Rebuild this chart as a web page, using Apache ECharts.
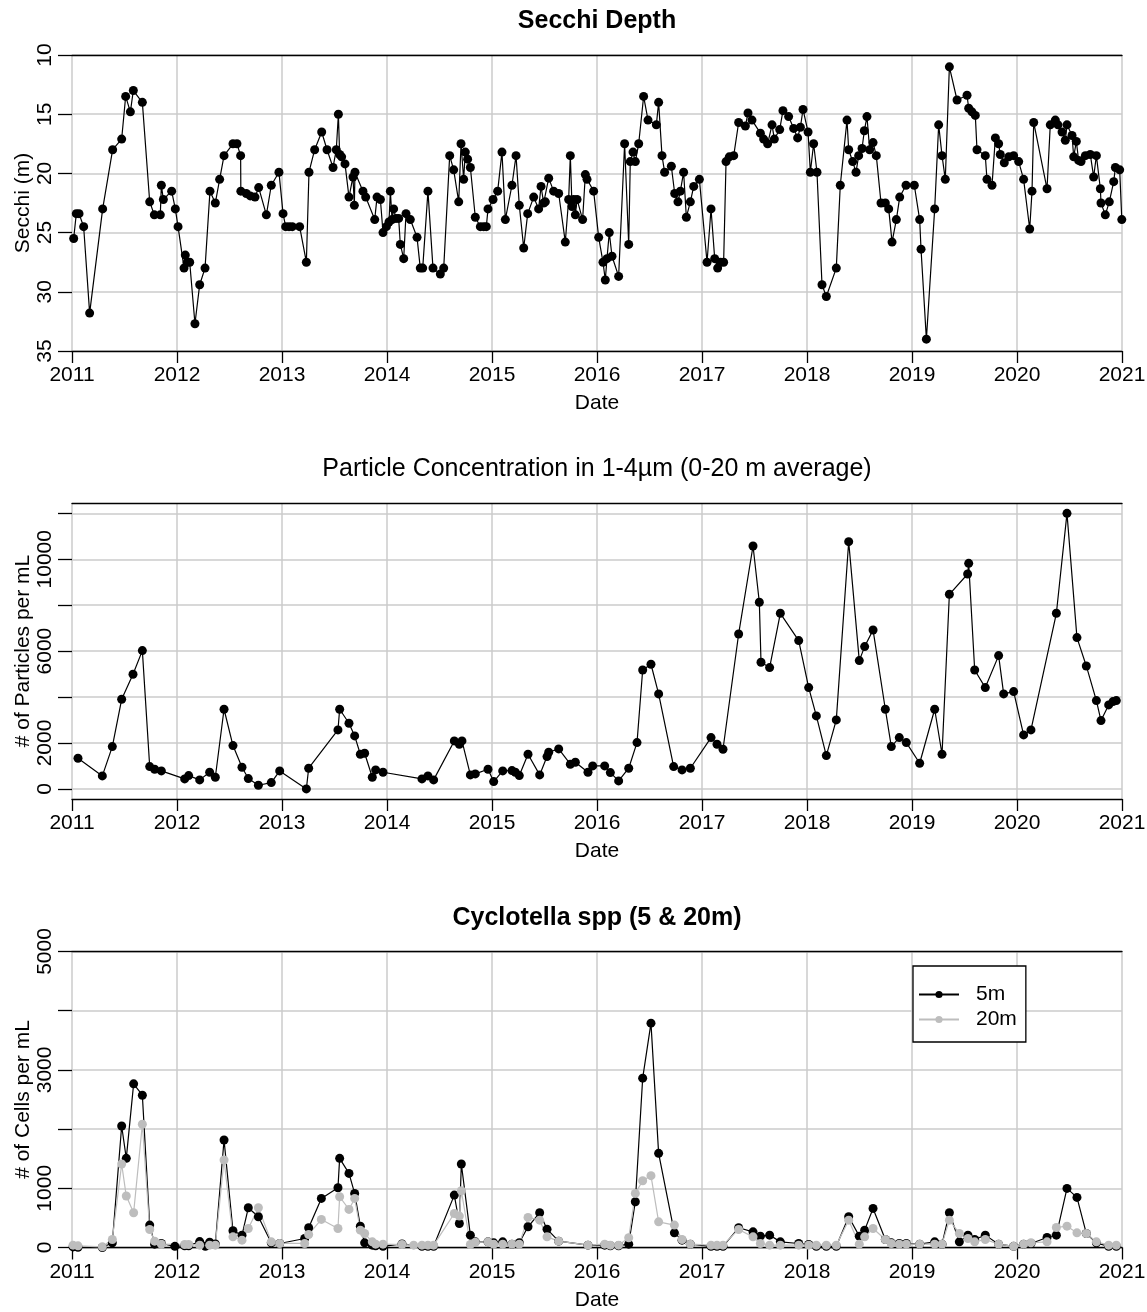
<!DOCTYPE html>
<html><head><meta charset="utf-8">
<script src="https://cdn.jsdelivr.net/npm/echarts@6/dist/echarts.min.js"></script>
<style>html,body{margin:0;padding:0;background:#fff}#c{width:1147px;height:1312px}</style>
</head><body><div id="c"></div>
<script>
// ---- DATA ----
const secchi = [
[2011.016,25.5],[2011.041,23.4],[2011.067,23.4],[2011.111,24.5],[2011.168,31.8],[2011.292,23.0],[2011.387,18.0],[2011.473,17.1],[2011.511,13.5],[2011.556,14.8],[2011.584,13.0],[2011.670,14.0],[2011.740,22.4],[2011.784,23.5],[2011.841,23.5],[2011.851,21.0],[2011.870,22.2],[2011.949,21.5],[2011.984,23.0],
[2012.010,24.5],[2012.067,28.0],[2012.079,26.9],[2012.098,27.5],[2012.121,27.5],[2012.171,32.7],[2012.216,29.4],[2012.267,28.0],[2012.314,21.5],[2012.365,22.5],[2012.406,20.5],[2012.448,18.5],[2012.533,17.5],[2012.571,17.5],[2012.606,18.5],[2012.608,21.5],[2012.660,21.7],[2012.698,21.9],[2012.743,22.0],[2012.778,21.2],[2012.851,23.5],[2012.898,21.0],[2012.971,19.9],
[2013.010,23.4],[2013.035,24.5],[2013.067,24.5],[2013.098,24.5],[2013.168,24.5],[2013.232,27.5],[2013.257,19.9],[2013.311,18.0],[2013.378,16.5],[2013.429,18.0],[2013.486,19.5],[2013.517,18.0],[2013.537,15.0],[2013.549,18.4],[2013.568,18.6],[2013.600,19.2],[2013.638,22.0],[2013.676,20.3],[2013.689,22.7],[2013.695,19.9],[2013.771,21.5],[2013.797,22.0],[2013.883,23.9],[2013.905,22.0],[2013.937,22.2],[2013.962,25.0],[2013.994,24.5],
[2014.019,24.1],[2014.032,21.5],[2014.048,23.9],[2014.063,23.0],[2014.086,23.8],[2014.111,23.8],[2014.127,26.0],[2014.159,27.2],[2014.181,23.4],[2014.222,23.9],[2014.286,25.4],[2014.317,28.0],[2014.340,28.0],[2014.390,21.5],[2014.438,28.0],[2014.508,28.5],[2014.540,28.0],[2014.597,18.5],[2014.635,19.7],[2014.683,22.4],[2014.705,17.5],[2014.730,20.5],[2014.746,18.2],[2014.768,18.8],[2014.794,19.5],[2014.841,23.7],[2014.889,24.5],[2014.921,24.5],[2014.946,24.5],[2014.962,23.0],
[2015.010,22.2],[2015.054,21.5],[2015.095,18.2],[2015.127,23.9],[2015.190,21.0],[2015.229,18.5],[2015.260,22.7],[2015.302,26.3],[2015.340,23.4],[2015.397,22.0],[2015.444,23.0],[2015.467,21.1],[2015.492,22.5],[2015.508,22.4],[2015.540,20.4],[2015.587,21.5],[2015.635,21.7],[2015.698,25.8],[2015.730,22.2],[2015.746,18.5],[2015.762,22.8],[2015.778,22.2],[2015.794,23.5],[2015.810,22.2],[2015.863,23.9],[2015.889,20.1],[2015.905,20.5],[2015.968,21.5],
[2016.016,25.4],[2016.057,27.5],[2016.079,29.0],[2016.095,27.2],[2016.117,25.0],[2016.143,27.0],[2016.206,28.7],[2016.263,17.5],[2016.302,26.0],[2016.317,19.0],[2016.343,18.2],[2016.365,19.0],[2016.397,17.5],[2016.444,13.5],[2016.486,15.5],[2016.565,15.9],[2016.587,14.0],[2016.619,18.5],[2016.644,19.9],[2016.708,19.4],[2016.740,21.7],[2016.771,22.4],[2016.794,21.5],[2016.825,19.9],[2016.851,23.7],[2016.889,22.4],[2016.921,21.1],[2016.975,20.5],
[2017.048,27.5],[2017.086,23.0],[2017.121,27.2],[2017.149,28.0],[2017.175,27.5],[2017.206,27.5],[2017.229,19.0],[2017.260,18.6],[2017.302,18.5],[2017.349,15.7],[2017.413,16.0],[2017.438,14.9],[2017.476,15.5],[2017.556,16.6],[2017.587,17.1],[2017.625,17.5],[2017.667,15.9],[2017.689,17.1],[2017.740,16.3],[2017.771,14.7],[2017.825,15.2],[2017.873,16.2],[2017.911,17.0],[2017.937,16.1],[2017.962,14.6],
[2018.010,16.5],[2018.032,19.9],[2018.063,17.5],[2018.095,19.9],[2018.143,29.4],[2018.184,30.4],[2018.279,28.0],[2018.317,21.0],[2018.381,15.5],[2018.397,18.0],[2018.435,19.0],[2018.467,19.9],[2018.492,18.5],[2018.524,17.9],[2018.546,16.4],[2018.571,15.2],[2018.597,18.0],[2018.629,17.4],[2018.660,18.5],[2018.705,22.5],[2018.746,22.5],[2018.778,23.0],[2018.810,25.8],[2018.851,23.9],[2018.883,22.0],[2018.943,21.0],
[2019.022,21.0],[2019.073,23.9],[2019.086,26.4],[2019.137,34.0],[2019.216,23.0],[2019.254,15.9],[2019.286,18.5],[2019.317,20.5],[2019.356,11.0],[2019.429,13.8],[2019.524,13.4],[2019.540,14.5],[2019.571,14.8],[2019.603,15.1],[2019.619,18.0],[2019.698,18.5],[2019.714,20.5],[2019.762,21.0],[2019.794,17.0],[2019.825,17.5],[2019.841,18.4],[2019.879,19.1],[2019.921,18.6],[2019.968,18.5],
[2020.016,19.0],[2020.063,20.5],[2020.121,24.7],[2020.143,21.5],[2020.159,15.7],[2020.286,21.3],[2020.317,15.9],[2020.365,15.5],[2020.390,15.9],[2020.429,16.5],[2020.460,17.2],[2020.476,15.9],[2020.524,16.8],[2020.540,18.6],[2020.565,17.3],[2020.587,18.9],[2020.610,19.0],[2020.651,18.5],[2020.698,18.4],[2020.730,20.3],[2020.756,18.5],[2020.794,21.3],[2020.800,22.5],[2020.841,23.5],[2020.879,22.4],[2020.921,20.7],[2020.937,19.5],[2020.978,19.7],[2020.998,23.9]
];

const particles = [
[2011.057,1335],[2011.289,566],[2011.384,1843],[2011.473,3903],[2011.581,4991],[2011.670,6022],[2011.740,972],[2011.787,856],[2011.851,784],[2012.073,435],[2012.111,580],[2012.216,392],[2012.311,726],[2012.365,508],[2012.448,3468],[2012.533,1886],[2012.619,943],[2012.679,450],[2012.775,160],[2012.898,276],[2012.978,784],[2013.232,0],[2013.254,900],[2013.533,2568],[2013.549,3468],[2013.638,2858],[2013.692,2307],[2013.746,1509],[2013.787,1553],[2013.860,508],[2013.892,827],[2013.962,726],
[2014.333,435],[2014.390,566],[2014.444,392],[2014.641,2089],[2014.689,1944],[2014.714,2089],[2014.794,609],[2014.841,653],[2014.962,856],[2015.016,319],[2015.102,784],[2015.190,798],[2015.222,726],[2015.260,580],[2015.343,1509],[2015.454,609],[2015.524,1407],[2015.540,1596],[2015.635,1741],[2015.746,1074],[2015.794,1161],[2015.914,726],[2015.959,1001],
[2016.073,1001],[2016.127,711],[2016.206,348],[2016.302,900],[2016.381,2017],[2016.435,5180],[2016.514,5427],[2016.587,4135],[2016.730,972],[2016.810,827],[2016.889,900],[2017.086,2235],[2017.143,1944],[2017.200,1727],[2017.349,6747],[2017.486,10578],[2017.546,8126],[2017.562,5514],[2017.644,5282],[2017.746,7647],[2017.921,6457],
[2018.016,4411],[2018.089,3178],[2018.184,1451],[2018.279,3004],[2018.397,10766],[2018.498,5586],[2018.549,6196],[2018.629,6921],[2018.746,3468],[2018.803,1843],[2018.879,2235],[2018.946,2017],[2019.073,1117],[2019.216,3468],[2019.286,1509],[2019.356,8474],[2019.530,9359],[2019.540,9823],[2019.597,5180],[2019.698,4411],[2019.825,5804],[2019.873,4135],[2019.968,4237],
[2020.063,2351],[2020.133,2568],[2020.375,7647],[2020.476,12000],[2020.571,6588],[2020.660,5354],[2020.756,3845],[2020.800,2975],[2020.873,3657],[2020.914,3802],[2020.946,3845]
];

const cyclo5m = [
[2011.010,10],[2011.057,5],[2011.289,0],[2011.384,79],[2011.473,2053],[2011.517,1506],[2011.587,2764],[2011.670,2572],[2011.740,378],[2011.787,56],[2011.851,68],[2011.980,20],[2012.073,30],[2012.111,30],[2012.216,100],[2012.270,20],[2012.311,90],[2012.365,60],[2012.448,1816],[2012.533,282],[2012.619,209],[2012.679,671],[2012.775,519],[2012.898,79],[2012.978,68],
[2013.216,152],[2013.254,333],[2013.375,829],[2013.533,1010],[2013.549,1506],[2013.638,1252],[2013.692,914],[2013.746,361],[2013.787,79],[2013.860,40],[2013.892,30],[2013.962,20],[2014.143,60],[2014.333,20],[2014.390,20],[2014.444,20],[2014.641,885],[2014.689,406],[2014.708,1410],[2014.794,209],[2014.841,96],[2014.962,96],
[2015.016,79],[2015.102,96],[2015.190,56],[2015.260,80],[2015.343,350],[2015.454,587],[2015.524,310],[2015.635,107],[2015.914,40],[2016.073,40],[2016.127,30],[2016.206,30],[2016.302,56],[2016.365,773],[2016.435,2860],[2016.514,3790],[2016.587,1590],[2016.737,248],[2016.810,124],[2016.889,56],
[2017.086,20],[2017.143,20],[2017.200,20],[2017.349,333],[2017.486,265],[2017.556,192],[2017.644,209],[2017.746,96],[2017.921,68],[2018.016,50],[2018.089,20],[2018.184,20],[2018.279,20],[2018.397,519],[2018.498,192],[2018.549,293],[2018.629,660],[2018.746,135],[2018.803,79],[2018.879,68],[2018.946,68],
[2019.073,56],[2019.216,96],[2019.286,56],[2019.356,587],[2019.451,96],[2019.533,209],[2019.597,135],[2019.698,209],[2019.825,56],[2019.968,20],[2020.063,56],[2020.133,68],[2020.286,169],[2020.375,209],[2020.476,998],[2020.571,846],[2020.660,237],[2020.756,79],[2020.873,20],[2020.946,20]
];

const cyclo20m = [
[2011.010,40],[2011.057,28],[2011.289,11],[2011.384,135],[2011.473,1410],[2011.517,869],[2011.587,587],[2011.670,2081],[2011.740,305],[2011.787,107],[2011.851,56],[2012.073,50],[2012.111,50],[2012.216,40],[2012.311,40],[2012.365,40],[2012.448,1478],[2012.533,180],[2012.619,124],[2012.679,321],[2012.775,671],[2012.898,96],[2012.978,68],
[2013.216,68],[2013.254,220],[2013.375,474],[2013.533,321],[2013.549,857],[2013.638,643],[2013.692,829],[2013.746,293],[2013.787,237],[2013.860,96],[2013.892,56],[2013.962,56],[2014.143,50],[2014.254,40],[2014.333,40],[2014.390,40],[2014.444,40],[2014.641,575],[2014.689,530],[2014.708,959],[2014.794,51],[2014.841,90],[2014.962,96],
[2015.016,56],[2015.102,56],[2015.190,56],[2015.260,56],[2015.343,508],[2015.454,462],[2015.524,180],[2015.635,107],[2015.914,40],[2016.073,56],[2016.127,40],[2016.206,40],[2016.302,164],[2016.365,914],[2016.435,1128],[2016.514,1213],[2016.587,434],[2016.737,378],[2016.810,135],[2016.889,56],
[2017.086,40],[2017.143,40],[2017.200,40],[2017.349,305],[2017.486,180],[2017.556,68],[2017.644,39],[2017.746,40],[2017.921,40],[2018.016,40],[2018.089,40],[2018.184,40],[2018.279,40],[2018.397,462],[2018.498,56],[2018.549,180],[2018.629,321],[2018.746,135],[2018.803,68],[2018.879,56],[2018.946,56],
[2019.073,56],[2019.216,56],[2019.286,56],[2019.356,462],[2019.451,237],[2019.533,152],[2019.597,96],[2019.698,135],[2019.825,56],[2019.968,20],[2020.063,56],[2020.133,80],[2020.286,96],[2020.375,338],[2020.476,361],[2020.571,248],[2020.660,237],[2020.756,96],[2020.873,40],[2020.946,40]
];

const particleTicks = [0,2000,4000,6000,8000,10000,12000];
const particleLabels = [0,2000,6000,10000];
const cycloLabels = [0,1000,3000,5000];
const titles = ['Secchi Depth','Particle Concentration in 1-4\u00b5m (0-20 m average)','Cyclotella spp (5 & 20m)'];
const seriesNames = ['5m','20m'];

// ---- STYLE / LAYOUT ----
const FONT = "'Liberation Sans', Arial, sans-serif";
const GL = 72, GW = 1050, GH = 296;
const tops = [55, 503, 951.5];
const gridLine = {show:true, lineStyle:{color:'#cbcbcb', width:1.5}};
const black = {color:'#000', width:1.3};

const grids = tops.map(t => ({left:GL, top:t, width:GW, height:GH, outerBoundsMode:'none', containLabel:false}));

const xAxes = [];
for (let i = 0; i < 3; i++) {
  xAxes.push({
    gridIndex:i, type:'value', min:2011, max:2021, interval:1, position:'bottom',
    axisLine:{show:true, onZero:false, lineStyle:black},
    axisTick:{show:true, length:12, lineStyle:black},
    axisLabel:{fontSize:21, color:'#000', margin:14, fontFamily:FONT, formatter:v=>String(v)},
    splitLine:gridLine,
    name:'Date', nameLocation:'middle', nameGap:42, nameMoveOverlap:false,
    nameTextStyle:{fontSize:21, color:'#000', fontFamily:FONT}
  });
}
for (let i = 0; i < 3; i++) {
  xAxes.push({
    gridIndex:i, type:'value', min:2011, max:2021, position:'top',
    axisLine:{show:true, onZero:false, lineStyle:black},
    axisTick:{show:false}, axisLabel:{show:false}, splitLine:{show:false}
  });
}

const yCommon = {
  type:'value',
  axisLine:{show:false, onZero:false},
  axisTick:{show:true, length:14, lineStyle:black},
  splitLine:gridLine,
  nameLocation:'middle', nameRotate:90, nameGap:38, nameMoveOverlap:false,
  nameTextStyle:{fontSize:21, color:'#000', fontFamily:FONT}
};
const yLabel = {rotate:90, fontSize:21, color:'#000', margin:16, fontFamily:FONT};

const yAxes = [
  Object.assign({}, yCommon, {gridIndex:0, inverse:true, min:10, max:35, interval:5, name:'Secchi (m)',
    axisLabel:Object.assign({}, yLabel, {formatter:v=>String(v)})}),
  Object.assign({}, yCommon, {gridIndex:1, min:-440, max:12450, name:'# of Particles per mL',
    axisTick:{show:true, length:14, lineStyle:black, customValues:particleTicks},
    axisLabel:Object.assign({}, yLabel, {customValues:particleLabels, formatter:v=>String(v)})}),
  Object.assign({}, yCommon, {gridIndex:2, min:0, max:5000, interval:1000, name:'# of Cells per mL',
    axisLabel:Object.assign({}, yLabel, {formatter:v=>cycloLabels.indexOf(v) >= 0 ? String(v) : ''})})
];

function lineSeries(name, data, xi, yi, color, lw) {
  return {
    name, type:'line', data, xAxisIndex:xi, yAxisIndex:yi,
    symbol:'circle', symbolSize:9, showSymbol:true,
    lineStyle:{color, width:lw}, itemStyle:{color},
    emphasis:{disabled:true}, animation:false
  };
}

const titleOpts = titles.map((t, i) => ({
  text:t, left:GL + GW/2 - 5, top:tops[i] - 51, textAlign:'center',
  textStyle:{fontSize:25, fontWeight: i === 1 ? 'normal' : 'bold', color:'#000', fontFamily:FONT}
}));

const option = {
  animation:false,
  backgroundColor:'#fff',
  title:titleOpts,
  grid:grids,
  xAxis:xAxes,
  yAxis:yAxes,
  legend:{
    data:seriesNames, orient:'vertical', left:913, top:966,
    padding:[18, 9, 12, 5], itemWidth:40, itemHeight:9, itemGap:4,
    borderColor:'#000', borderWidth:1.3, backgroundColor:'#fff',
    textStyle:{fontSize:21, color:'#000', fontFamily:FONT, padding:[0,0,0,12]}
  },
  series:[
    lineSeries('Secchi', secchi, 0, 0, '#000', 1.2),
    lineSeries('Particles', particles, 1, 1, '#000', 1.2),
    lineSeries(seriesNames[0], cyclo5m, 2, 2, '#000', 1.2),
    lineSeries(seriesNames[1], cyclo20m, 2, 2, '#bdbdbd', 1.2)
  ]
};

const chart = echarts.init(document.getElementById('c'), null, {renderer:'canvas'});
chart.setOption(option);
</script>
</body></html>
